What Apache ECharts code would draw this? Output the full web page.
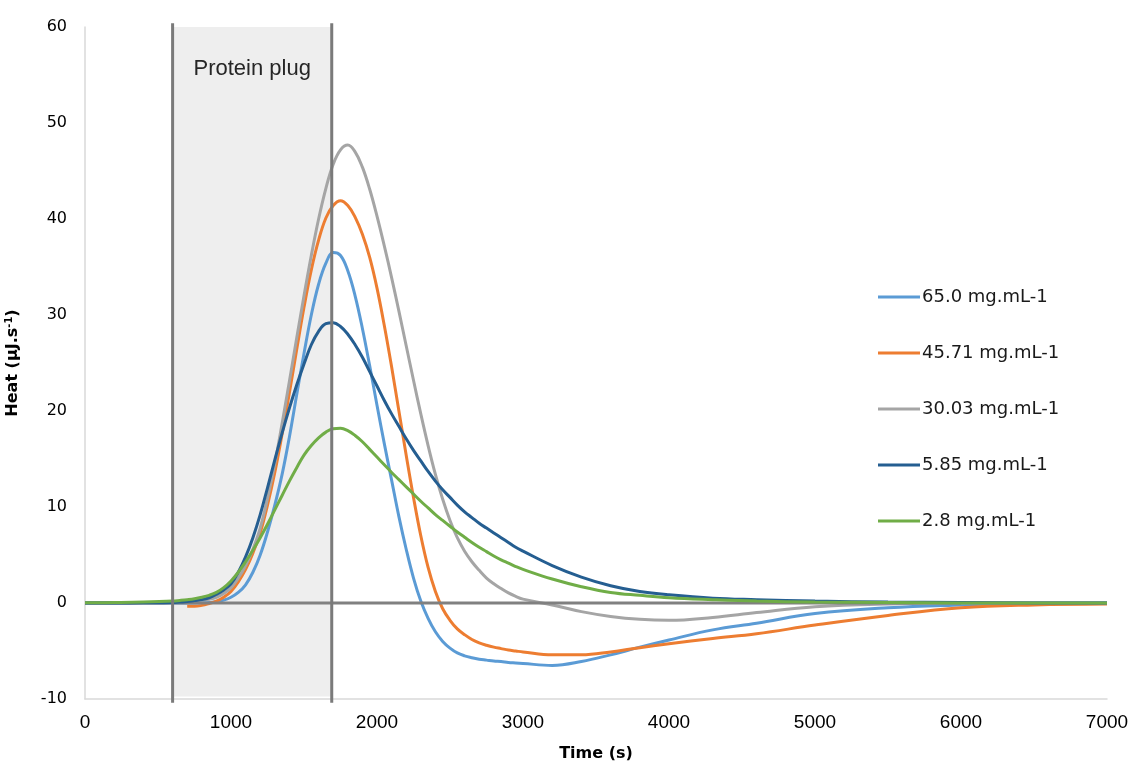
<!DOCTYPE html>
<html>
<head>
<meta charset="utf-8">
<script src="https://cdn.jsdelivr.net/npm/echarts@6/dist/echarts.min.js"></script>
<style>
  html, body { margin: 0; padding: 0; background: #ffffff; }
  #chart { width: 1131px; height: 763px; }
</style>
</head>
<body>
<div id="chart"></div>
<script>
// Sampling times (s)
const times = [0, 200, 400,
  600, 650, 700, 750, 800, 850, 900, 950, 1000, 1050,
  1100, 1150, 1200, 1250, 1300, 1350, 1400, 1450, 1500, 1550,
  1600, 1650, 1700, 1750, 1800, 1850, 1900, 1950, 2000, 2050,
  2100, 2150, 2200, 2250, 2300, 2350, 2400, 2450, 2500, 2550,
  2600, 2650, 2700, 2750, 2800, 2850, 2900, 2950, 3000,
  3200, 3400, 3600, 3800, 4000, 4300, 4600, 5000, 5500, 6000, 6500, 7000];

// Heat flow (µJ/s) for each protein concentration
const heat65 = [0, 0, 0,
  0, 0, 0, 0, 0.02, 0.05, 0.12, 0.3, 0.6, 1.1,
  1.9, 3.2, 5.0, 7.4, 10.2, 13.4, 17.3, 21.7, 26.0, 30.0,
  33.2, 35.4, 36.5, 36.2, 34.6, 32.0, 28.6, 24.7, 20.6, 16.6,
  12.8, 9.0, 5.6, 2.6, 0.2, -1.6, -3.0, -4.0, -4.7, -5.2,
  -5.5, -5.7, -5.85, -5.95, -6.05, -6.1, -6.2, -6.25, -6.3,
  -6.5, -6.1, -5.4, -4.6, -3.85, -2.8, -2.1, -1.1, -0.5, -0.2, 0, 0];
const heat45 = [null, null, null,
  null, null, -0.35, -0.35, -0.25, -0.05, 0.2, 0.6, 1.2, 2.2,
  3.5, 5.2, 7.3, 10.2, 13.6, 17.6, 21.9, 26.4, 30.8, 34.7,
  37.8, 40.1, 41.4, 41.9, 41.4, 40.2, 38.4, 36.0, 32.8, 28.9,
  24.6, 20.0, 15.4, 11.0, 7.0, 3.7, 1.2, -0.6, -1.8, -2.7,
  -3.3, -3.8, -4.15, -4.4, -4.6, -4.75, -4.9, -5.0, -5.1,
  -5.4, -5.4, -5.1, -4.65, -4.25, -3.7, -3.2, -2.3, -1.3, -0.5, -0.2, -0.1];
const heat30 = [0, 0, 0.02,
  0.05, 0.1, 0.15, 0.2, 0.3, 0.4, 0.6, 1.0, 1.6, 2.6,
  3.9, 5.6, 7.8, 10.9, 14.5, 18.7, 23.1, 27.6, 32.0, 36.2,
  40.0, 43.2, 45.7, 47.2, 47.7, 47.0, 45.4, 43.1, 40.3, 37.2,
  33.9, 30.4, 26.8, 23.2, 19.7, 16.4, 13.4, 10.8, 8.6, 6.8,
  5.4, 4.3, 3.4, 2.6, 2.0, 1.5, 1.05, 0.7, 0.4,
  -0.2, -0.9, -1.4, -1.7, -1.8, -1.5, -1.0, -0.4, -0.1, 0, 0, 0];
const heat585 = [0, 0, 0.02,
  0.05, 0.1, 0.15, 0.25, 0.35, 0.55, 0.9, 1.35, 2.0, 3.2,
  4.8, 6.8, 9.2, 12.0, 14.9, 17.7, 20.3, 22.7, 24.9, 26.9,
  28.3, 29.1, 29.2, 28.8, 28.0, 26.9, 25.6, 24.1, 22.6, 21.1,
  19.7, 18.4, 17.1, 15.9, 14.8, 13.7, 12.7, 11.8, 11.0, 10.2,
  9.5, 8.9, 8.3, 7.8, 7.3, 6.8, 6.3, 5.8, 5.4,
  3.9, 2.7, 1.8, 1.2, 0.85, 0.5, 0.35, 0.2, 0.1, 0.05, 0, 0];
const heat28 = [0.02, 0.05, 0.1,
  0.2, 0.27, 0.35, 0.45, 0.6, 0.8, 1.1, 1.6, 2.3, 3.2,
  4.3, 5.5, 6.8, 8.2, 9.7, 11.2, 12.7, 14.1, 15.4, 16.4,
  17.2, 17.8, 18.15, 18.2, 17.95, 17.45, 16.8, 16.0, 15.2, 14.4,
  13.6, 12.85, 12.1, 11.35, 10.6, 9.9, 9.2, 8.6, 8.0, 7.4,
  6.85, 6.3, 5.8, 5.35, 4.9, 4.5, 4.15, 3.8, 3.5,
  2.5, 1.7, 1.1, 0.8, 0.55, 0.35, 0.2, 0.1, 0.05, 0, 0, 0];

const seriesNames = ['65.0 mg.mL-1', '45.71 mg.mL-1', '30.03 mg.mL-1', '5.85 mg.mL-1', '2.8 mg.mL-1'];
const seriesColors = ['#5B9BD5', '#ED7D31', '#A5A5A5', '#255E91', '#70AD47'];

// Injection window of the protein plug (s) and the vertical extent of its edge lines
const plugStart = 600;
const plugEnd = 1690;
const plugLabel = 'Protein plug';
const plugEdgeTop = 60.4;
const plugEdgeBottom = -10.4;

// Baseline drawn at zero heat
const baselineTimes = [0, 6000];

const xTicks = { min: 0, max: 7000, interval: 1000 };
const yTicks = { min: -10, max: 60, interval: 10 };

const pairs = vals => times.map((t, i) => [t, vals[i]]);

function curve(name, vals, color) {
  return {
    name: name,
    type: 'line',
    data: pairs(vals),
    showSymbol: false,
    smooth: 0.4,
    lineStyle: { color: color, width: 3 },
    itemStyle: { color: color },
    emphasis: { disabled: true }
  };
}

function plugEdge(t) {
  return {
    name: 'plugEdge' + t,
    type: 'line',
    data: [[t, plugEdgeTop], [t, plugEdgeBottom]],
    clip: false,
    silent: true,
    showSymbol: false,
    z: 5,
    lineStyle: { color: '#7a7a7a', width: 3 },
    emphasis: { disabled: true }
  };
}

const chart = echarts.init(document.getElementById('chart'), null, { renderer: 'canvas' });

const option = {
  animation: false,
  backgroundColor: '#ffffff',
  grid: { left: 85, right: 24, top: 27, bottom: 64, containLabel: false, outerBoundsMode: 'none' },
  legend: {
    data: seriesNames,
    orient: 'vertical',
    left: 878,
    top: 287,
    padding: 0,
    icon: 'rect',
    itemWidth: 42,
    itemHeight: 3,
    itemGap: 36,
    textStyle: { fontFamily: 'DejaVu Sans', fontSize: 18, color: '#1a1a1a', lineHeight: 20, padding: [0, 0, 0, -3] }
  },
  xAxis: {
    type: 'value',
    min: xTicks.min,
    max: xTicks.max,
    interval: xTicks.interval,
    name: 'Time (s)',
    nameLocation: 'middle',
    nameGap: 47,
    nameTextStyle: { fontFamily: 'DejaVu Sans', fontWeight: 'bold', fontSize: 16, color: '#000' },
    axisLine: { show: true, onZero: false, lineStyle: { color: '#d9d9d9', width: 1.5 } },
    axisTick: { show: false },
    splitLine: { show: false },
    axisLabel: {
      formatter: v => String(v),
      fontFamily: '"Liberation Sans Narrow", "Liberation Sans", sans-serif',
      fontSize: 19, color: '#000', margin: 14
    }
  },
  yAxis: {
    type: 'value',
    min: yTicks.min,
    max: yTicks.max,
    interval: yTicks.interval,
    name: 'Heat (µJ.s{sup|-1})',
    nameLocation: 'middle',
    nameRotate: 90,
    nameGap: 63,
    nameTextStyle: {
      fontFamily: 'DejaVu Sans', fontWeight: 'bold', fontSize: 16, color: '#000',
      rich: { sup: { fontFamily: 'DejaVu Sans', fontWeight: 'bold', fontSize: 10, color: '#000', verticalAlign: 'top', padding: [0, 0, 8, 0] } }
    },
    axisLine: { show: true, lineStyle: { color: '#d9d9d9', width: 1.5 } },
    axisTick: { show: false },
    splitLine: { show: false },
    axisLabel: { fontFamily: 'DejaVu Sans', fontSize: 16, color: '#000', margin: 18 }
  },
  series: [
    {
      name: 'plugArea',
      type: 'line',
      data: [],
      clip: false,
      silent: true,
      markArea: {
        silent: true,
        itemStyle: { color: '#eeeeee' },
        label: {
          show: true,
          position: 'insideTop',
          distance: 31,
          fontFamily: '"Liberation Sans", Arial, sans-serif',
          fontSize: 22,
          color: '#262626'
        },
        data: [[{ name: plugLabel, coord: [plugStart, plugEdgeTop] }, { coord: [plugEnd, -9.75] }]]
      }
    },
    curve(seriesNames[0], heat65, seriesColors[0]),
    curve(seriesNames[1], heat45, seriesColors[1]),
    curve(seriesNames[2], heat30, seriesColors[2]),
    {
      name: 'baseline',
      type: 'line',
      data: baselineTimes.map(t => [t, 0]),
      showSymbol: false,
      silent: true,
      lineStyle: { color: '#808080', width: 3 },
      emphasis: { disabled: true }
    },
    curve(seriesNames[3], heat585, seriesColors[3]),
    curve(seriesNames[4], heat28, seriesColors[4]),
    plugEdge(plugStart),
    plugEdge(plugEnd)
  ]
};

chart.setOption(option);
</script>
</body>
</html>
